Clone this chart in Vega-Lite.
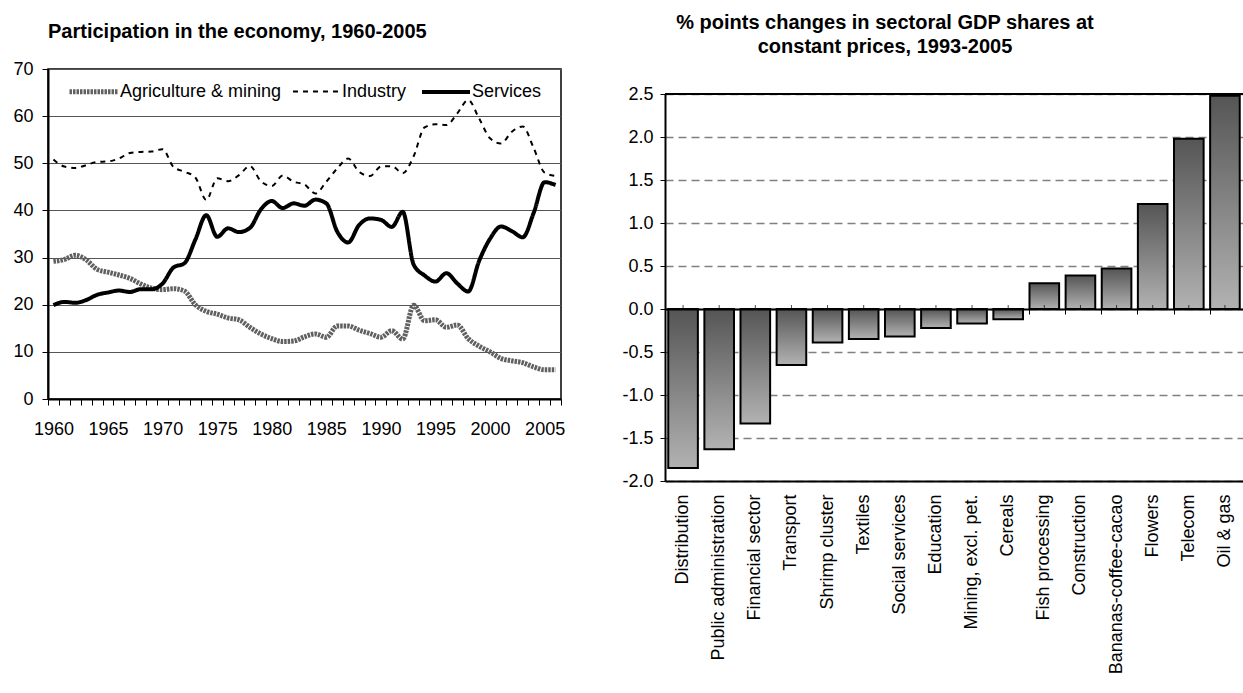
{
  "$schema": "https://vega.github.io/schema/vega-lite/v6.json",
  "background": "white",
  "padding": {"left": 12, "top": 13, "right": 0, "bottom": 0},
  "spacing": 53,
  "config": {
    "font": "Liberation Sans",
    "view": {"stroke": "black", "strokeWidth": 1.5},
    "axis": {"labelColor": "black", "labelFont": "Liberation Sans", "domainColor": "black", "tickColor": "black", "title": null},
    "title": {"font": "Liberation Sans", "color": "black", "fontWeight": "bold", "fontSize": 20},
    "legend": {"labelFont": "Liberation Sans", "labelColor": "black"}
  },
  "hconcat": [
    {
      "width": 513,
      "height": 330,
      "title": {"text": "Participation in the economy, 1960-2005", "anchor": "start", "frame": "group", "offset": 18},
      "data": {
        "values": [
          {"year": 1960, "Agriculture & mining": 29.2, "Industry": 50.8, "Services": 19.9},
          {"year": 1961, "Agriculture & mining": 29.6, "Industry": 49.3, "Services": 20.6},
          {"year": 1962, "Agriculture & mining": 30.5, "Industry": 49.0, "Services": 20.4},
          {"year": 1963, "Agriculture & mining": 29.5, "Industry": 49.6, "Services": 21.0},
          {"year": 1964, "Agriculture & mining": 27.5, "Industry": 50.3, "Services": 22.1},
          {"year": 1965, "Agriculture & mining": 26.9, "Industry": 50.4, "Services": 22.6},
          {"year": 1966, "Agriculture & mining": 26.3, "Industry": 51.0, "Services": 23.0},
          {"year": 1967, "Agriculture & mining": 25.6, "Industry": 52.2, "Services": 22.7},
          {"year": 1968, "Agriculture & mining": 24.4, "Industry": 52.4, "Services": 23.3},
          {"year": 1969, "Agriculture & mining": 23.5, "Industry": 52.5, "Services": 23.3},
          {"year": 1970, "Agriculture & mining": 23.2, "Industry": 53.0, "Services": 24.5},
          {"year": 1971, "Agriculture & mining": 23.4, "Industry": 49.2, "Services": 27.9},
          {"year": 1972, "Agriculture & mining": 22.9, "Industry": 48.2, "Services": 28.8},
          {"year": 1973, "Agriculture & mining": 20.0, "Industry": 47.0, "Services": 33.8},
          {"year": 1974, "Agriculture & mining": 18.6, "Industry": 42.2, "Services": 39.0},
          {"year": 1975, "Agriculture & mining": 18.0, "Industry": 46.8, "Services": 34.4},
          {"year": 1976, "Agriculture & mining": 17.2, "Industry": 46.2, "Services": 36.2},
          {"year": 1977, "Agriculture & mining": 16.8, "Industry": 47.5, "Services": 35.4},
          {"year": 1978, "Agriculture & mining": 15.2, "Industry": 49.4, "Services": 36.3},
          {"year": 1979, "Agriculture & mining": 13.8, "Industry": 46.2, "Services": 40.2},
          {"year": 1980, "Agriculture & mining": 12.8, "Industry": 45.2, "Services": 42.0},
          {"year": 1981, "Agriculture & mining": 12.2, "Industry": 47.4, "Services": 40.5},
          {"year": 1982, "Agriculture & mining": 12.3, "Industry": 46.1, "Services": 41.5},
          {"year": 1983, "Agriculture & mining": 13.2, "Industry": 45.5, "Services": 41.0},
          {"year": 1984, "Agriculture & mining": 13.8, "Industry": 43.6, "Services": 42.3},
          {"year": 1985, "Agriculture & mining": 13.1, "Industry": 46.1, "Services": 41.5},
          {"year": 1986, "Agriculture & mining": 15.5, "Industry": 48.9, "Services": 35.5},
          {"year": 1987, "Agriculture & mining": 15.5, "Industry": 51.0, "Services": 33.2},
          {"year": 1988, "Agriculture & mining": 14.6, "Industry": 48.2, "Services": 36.9},
          {"year": 1989, "Agriculture & mining": 13.9, "Industry": 47.3, "Services": 38.3},
          {"year": 1990, "Agriculture & mining": 13.1, "Industry": 49.3, "Services": 38.0},
          {"year": 1991, "Agriculture & mining": 14.5, "Industry": 49.4, "Services": 36.5},
          {"year": 1992, "Agriculture & mining": 12.7, "Industry": 47.9, "Services": 39.7},
          {"year": 1993, "Agriculture & mining": 19.9, "Industry": 51.5, "Services": 28.5},
          {"year": 1994, "Agriculture & mining": 16.6, "Industry": 57.6, "Services": 26.2},
          {"year": 1995, "Agriculture & mining": 16.8, "Industry": 58.3, "Services": 24.9},
          {"year": 1996, "Agriculture & mining": 15.2, "Industry": 58.1, "Services": 26.7},
          {"year": 1997, "Agriculture & mining": 15.7, "Industry": 60.6, "Services": 24.5},
          {"year": 1998, "Agriculture & mining": 12.8, "Industry": 63.4, "Services": 22.8},
          {"year": 1999, "Agriculture & mining": 11.2, "Industry": 59.5, "Services": 29.3},
          {"year": 2000, "Agriculture & mining": 10.0, "Industry": 55.3, "Services": 34.0},
          {"year": 2001, "Agriculture & mining": 8.6, "Industry": 54.2, "Services": 36.6},
          {"year": 2002, "Agriculture & mining": 8.1, "Industry": 56.7, "Services": 35.6},
          {"year": 2003, "Agriculture & mining": 7.7, "Industry": 57.8, "Services": 34.3},
          {"year": 2004, "Agriculture & mining": 6.8, "Industry": 53.2, "Services": 39.5},
          {"year": 2005, "Agriculture & mining": 6.2, "Industry": 48.0, "Services": 46.0},
          {"year": 2006, "Agriculture & mining": 6.2, "Industry": 47.3, "Services": 45.4}
        ]
      },
      "transform": [
        {"fold": ["Agriculture & mining", "Industry", "Services"], "as": ["series", "share"]}
      ],
      "mark": {"type": "line", "interpolate": "monotone", "strokeCap": "butt"},
      "encoding": {
        "x": {
          "field": "year",
          "type": "quantitative",
          "scale": {"domain": [1959.5, 2006.5], "nice": false, "zero": false},
          "axis": {
            "values": [1959.5, 1960.5, 1961.5, 1962.5, 1963.5, 1964.5, 1965.5, 1966.5, 1967.5, 1968.5, 1969.5, 1970.5, 1971.5, 1972.5, 1973.5, 1974.5, 1975.5, 1976.5, 1977.5, 1978.5, 1979.5, 1980.5, 1981.5, 1982.5, 1983.5, 1984.5, 1985.5, 1986.5, 1987.5, 1988.5, 1989.5, 1990.5, 1991.5, 1992.5, 1993.5, 1994.5, 1995.5, 1996.5, 1997.5, 1998.5, 1999.5, 2000.5, 2001.5, 2002.5, 2003.5, 2004.5, 2005.5, 2006.5],
            "labelExpr": "(datum.value + 0.5) % 5 == 0 ? format(datum.value + 0.5, 'd') : ''",
            "labelOffset": 5.46,
            "labelFontSize": 18,
            "labelPadding": 15,
            "labelOverlap": false,
            "labelFlush": false,
            "labelBound": false,
            "tickSize": 6,
            "tickWidth": 1,
            "domainWidth": 2,
            "grid": false
          }
        },
        "y": {
          "field": "share",
          "type": "quantitative",
          "scale": {"domain": [0, 70], "nice": false},
          "axis": {
            "values": [0, 10, 20, 30, 40, 50, 60, 70],
            "labelFontSize": 18,
            "labelPadding": 9,
            "tickSize": 6,
            "domainWidth": 2,
            "grid": true,
            "gridColor": "#555555",
            "gridWidth": 1
          }
        },
        "color": {
          "field": "series",
          "type": "nominal",
          "scale": {"domain": ["Agriculture & mining", "Industry", "Services"], "range": ["#606060", "#000000", "#000000"]},
          "legend": {
            "orient": "none",
            "legendX": 19,
            "legendY": -4,
            "direction": "horizontal",
            "title": null,
            "symbolType": "stroke",
            "symbolSize": 2304,
            "labelFontSize": 18,
            "labelLimit": 400,
            "columnPadding": 7,
            "labelOffset": 0
          }
        },
        "strokeDash": {
          "field": "series",
          "type": "nominal",
          "scale": {"domain": ["Agriculture & mining", "Industry", "Services"], "range": [[2.5, 1], [5, 5], [1, 0]]},
          "legend": null
        },
        "strokeWidth": {
          "field": "series",
          "type": "nominal",
          "scale": {"type": "ordinal", "domain": ["Agriculture & mining", "Industry", "Services"], "range": [5, 2, 4]},
          "legend": null
        }
      }
    },
    {
      "width": 578,
      "height": 412,
      "view": {"stroke": null},
      "title": {"text": ["% points changes in sectoral GDP shares at", "constant prices, 1993-2005"], "anchor": "middle", "frame": "group", "dx": -69, "lineHeight": 24, "offset": 12},
      "data": {
        "values": [
          {"sector": "Distribution", "change": -1.85},
          {"sector": "Public administration", "change": -1.63},
          {"sector": "Financial sector", "change": -1.33},
          {"sector": "Transport", "change": -0.65},
          {"sector": "Shrimp cluster", "change": -0.39},
          {"sector": "Textiles", "change": -0.35},
          {"sector": "Social services", "change": -0.32},
          {"sector": "Education", "change": -0.22},
          {"sector": "Mining, excl. pet.", "change": -0.17},
          {"sector": "Cereals", "change": -0.12},
          {"sector": "Fish processing", "change": 0.30},
          {"sector": "Construction", "change": 0.39},
          {"sector": "Bananas-coffee-cacao", "change": 0.47},
          {"sector": "Flowers", "change": 1.22},
          {"sector": "Telecom", "change": 1.98},
          {"sector": "Oil & gas", "change": 2.48}
        ]
      },
      "layer": [
        {
          "mark": {
            "type": "bar",
            "stroke": "black",
            "strokeWidth": 2,
            "fill": {
              "gradient": "linear",
              "x1": 0, "y1": 0, "x2": 0, "y2": 1,
              "stops": [
                {"offset": 0, "color": "#555555"},
                {"offset": 1, "color": "#b2b2b2"}
              ]
            }
          },
          "encoding": {
            "x": {
              "field": "sector",
              "type": "nominal",
              "sort": null,
              "scale": {"paddingInner": 0.18, "paddingOuter": 0.09},
              "axis": {
                "orient": "bottom",
                "labelAngle": -90,
                "labelFontSize": 18,
                "labelPadding": 13,
                "ticks": false,
                "domain": true,
                "domainWidth": 2,
                "grid": false
              }
            },
            "y": {
              "field": "change",
              "type": "quantitative",
              "scale": {"domain": [-2, 2.5], "range": [412, 25], "nice": false, "zero": false},
              "axis": {
                "values": [-2, -1.5, -1, -0.5, 0, 0.5, 1, 1.5, 2, 2.5],
                "labelExpr": "(datum.value < 0 ? '-' : '') + format(abs(datum.value), '.1f')",
                "labelFontSize": 18,
                "labelPadding": 7,
                "tickSize": 5,
                "domainWidth": 2,
                "grid": true,
                "gridColor": "#808080",
                "gridWidth": 1.5,
                "gridDash": [8, 5]
              }
            }
          }
        },
        {
          "mark": {"type": "rule", "color": "black", "strokeWidth": 2},
          "encoding": {"y": {"datum": 2.5, "type": "quantitative"}}
        },
        {
          "mark": {"type": "tick", "orient": "vertical", "color": "black", "thickness": 1, "size": 4, "yOffset": -2},
          "encoding": {
            "x": {
              "field": "sector",
              "type": "nominal",
              "sort": null,
              "axis": {
                "orient": "bottom",
                "offset": -172,
                "labels": false,
                "bandPosition": 0,
                "tickSize": 5,
                "tickWidth": 1,
                "domainWidth": 2,
                "grid": false,
                "zindex": 1
              }
            },
            "y": {"datum": 0, "type": "quantitative"}
          }
        }
      ],
      "resolve": {"axis": {"x": "independent"}}
    }
  ]
}
